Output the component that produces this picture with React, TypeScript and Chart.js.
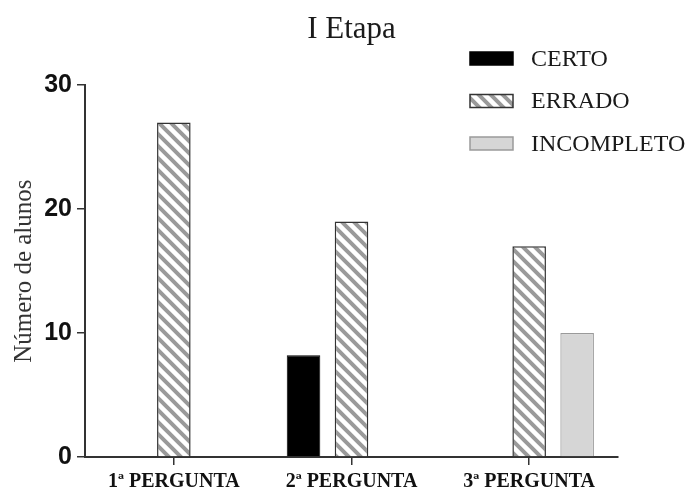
import { useEffect, useRef } from 'react';
import { Chart, registerables } from 'chart.js';

Chart.register(...registerables);

const categories = ['1ª PERGUNTA', '2ª PERGUNTA', '3ª PERGUNTA'];
const certo = [0, 8.2, 0];
const errado = [27, 19, 17];
const incompleto = [0, 0, 10];
const seriesNames = ['CERTO', 'ERRADO', 'INCOMPLETO'];
const yMin = 0;
const yMax = 30;
const yStep = 10;
const chartTitle = 'I Etapa';
const yTitle = 'Número de alunos';

function makeHatch(): CanvasPattern | string {
  const size = 12;
  const c = document.createElement('canvas');
  c.width = size;
  c.height = size;
  const g = c.getContext('2d');
  if (!g) return '#999';
  g.fillStyle = '#ffffff';
  g.fillRect(0, 0, size, size);
  g.strokeStyle = '#9a9a9a';
  g.lineWidth = 4;
  g.lineCap = 'square';
  for (const k of [-size, 0, size]) {
    g.beginPath();
    g.moveTo(k - 2, -2);
    g.lineTo(k + size + 2, size + 2);
    g.stroke();
  }
  const p = g.createPattern(c, 'repeat');
  return p || '#999';
}

const legendPlugin = {
  id: 'sideLegend',
  afterDraw(chart: any) {
    const ctx = chart.ctx as CanvasRenderingContext2D;
    chart.data.datasets.forEach((ds: any, i: number) => {
      const cy = 58.5 + i * 42.5;
      ctx.save();
      ctx.fillStyle = ds.backgroundColor;
      ctx.fillRect(470, cy - 6.5, 43, 13);
      ctx.strokeStyle = ds.borderColor;
      ctx.lineWidth = 1.5;
      ctx.strokeRect(470, cy - 6.5, 43, 13);
      ctx.fillStyle = '#1a1a1a';
      ctx.font = '24px "Liberation Serif", "Times New Roman", serif';
      ctx.textAlign = 'left';
      ctx.textBaseline = 'middle';
      ctx.fillText(ds.label, 531, cy + 1);
      ctx.restore();
    });
  },
};

export default function App() {
  const ref = useRef<HTMLCanvasElement | null>(null);

  useEffect(() => {
    document.body.style.margin = '0';
    const canvas = ref.current;
    if (!canvas) return;
    const hatch = makeHatch();
    const bw = (w: number) => (c: any) => (c.raw ? w : 0);
    const chart = new Chart(canvas, {
      type: 'bar',
      data: {
        labels: categories,
        datasets: [
          {
            label: seriesNames[0],
            data: certo,
            backgroundColor: '#000000',
            borderColor: '#000000',
            borderWidth: bw(1),
          },
          {
            label: seriesNames[1],
            data: errado,
            backgroundColor: hatch as any,
            borderColor: '#333333',
            borderWidth: bw(1.5),
          },
          {
            label: seriesNames[2],
            data: incompleto,
            backgroundColor: '#d6d6d6',
            borderColor: '#9a9a9a',
            borderWidth: bw(1.2),
          },
        ],
      },
      options: {
        responsive: false,
        animation: false,
        devicePixelRatio: 1,
        categoryPercentage: 0.81,
        barPercentage: 0.7,
        layout: { padding: { left: 0, right: 73, top: 0, bottom: 0 } },
        plugins: {
          legend: { display: false },
          tooltip: { enabled: false },
          title: {
            display: true,
            text: chartTitle,
            fullSize: false,
            color: '#1a1a1a',
            font: { family: '"Liberation Serif", "Times New Roman", serif', size: 31, weight: 'normal' },
            padding: { top: 11, bottom: 37 },
          },
        },
        scales: {
          x: {
            offset: true,
            grid: {
              offset: false,
              drawOnChartArea: false,
              drawTicks: true,
              tickLength: 8,
              color: '#333',
              lineWidth: 1.5,
            },
            border: { display: true, color: '#333', width: 2 },
            ticks: {
              color: '#111',
              padding: 5,
              maxRotation: 0,
              font: { family: '"Liberation Serif", "Times New Roman", serif', size: 20, weight: 'bold' },
            },
            afterFit(scale: any) {
              scale.height = 35;
            },
          },
          y: {
            min: yMin,
            max: yMax,
            ticks: {
              stepSize: yStep,
              color: '#111',
              padding: 5,
              font: { family: '"Liberation Sans", Arial, sans-serif', size: 25, weight: 'bold' },
            },
            grid: {
              drawOnChartArea: false,
              drawTicks: true,
              tickLength: 8,
              color: '#333',
              lineWidth: 1.5,
            },
            border: { display: true, color: '#333', width: 2 },
            title: {
              display: true,
              text: yTitle,
              color: '#333',
              padding: { top: 9, bottom: 0 },
              font: { family: '"Liberation Serif", "Times New Roman", serif', size: 25, weight: 'normal' },
            },
            afterFit(scale: any) {
              scale.width = 85;
            },
          },
        },
      },
      plugins: [legendPlugin],
    });
    return () => chart.destroy();
  }, []);

  return (
    <div style={{ width: 691, height: 492, background: '#fff' }}>
      <canvas ref={ref} width={691} height={492} style={{ display: 'block' }} />
    </div>
  );
}
